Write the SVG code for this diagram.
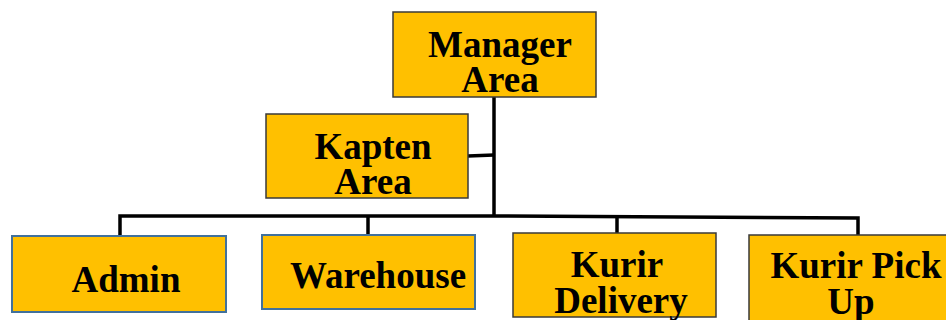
<svg xmlns="http://www.w3.org/2000/svg" width="946" height="320" viewBox="0 0 946 320">
<style>
.box{fill:#FFC000;stroke:#3a3a3a;stroke-width:1.5}
.boxb{fill:#FFC000;stroke:#41719C;stroke-width:2}
.t{font-family:"Liberation Serif","Times New Roman",serif;font-weight:bold;font-size:37px;fill:#000;text-anchor:middle}
.c{fill:none;stroke:#000;stroke-width:3.5}
</style>
<rect width="946" height="320" fill="#fff"/>
<g id="connectors">
<path class="c" d="M494,97 V217"/>
<path class="c" d="M468,156 L494,155"/>
<path class="c" d="M120,236 V216 L494,216 L858,218 V235"/>
<path class="c" d="M368,216 V235"/>
<path class="c" d="M617,217 V233"/>
</g>
<g id="manager">
<rect class="box" x="393" y="12" width="203" height="85"/>
<text class="t" x="500" y="57">Manager</text>
<text class="t" x="500" y="92">Area</text>
</g>
<g id="kapten">
<rect class="box" x="266" y="114" width="202" height="84"/>
<text class="t" x="373" y="159">Kapten</text>
<text class="t" x="373" y="194">Area</text>
</g>
<g id="admin">
<rect class="boxb" x="12" y="236" width="214" height="76"/>
<text class="t" x="126" y="292">Admin</text>
</g>
<g id="warehouse">
<rect class="boxb" x="262" y="235" width="213" height="74"/>
<text class="t" x="378" y="288">Warehouse</text>
</g>
<g id="kurir-delivery">
<rect class="box" x="513" y="233" width="203" height="84"/>
<text class="t" x="617" y="277">Kurir</text>
<text class="t" x="621" y="313">Delivery</text>
</g>
<g id="kurir-pickup">
<rect class="box" x="749" y="235" width="210" height="90"/>
<text class="t" x="856" y="278">Kurir Pick</text>
<text class="t" x="851" y="314">Up</text>
</g>
</svg>
